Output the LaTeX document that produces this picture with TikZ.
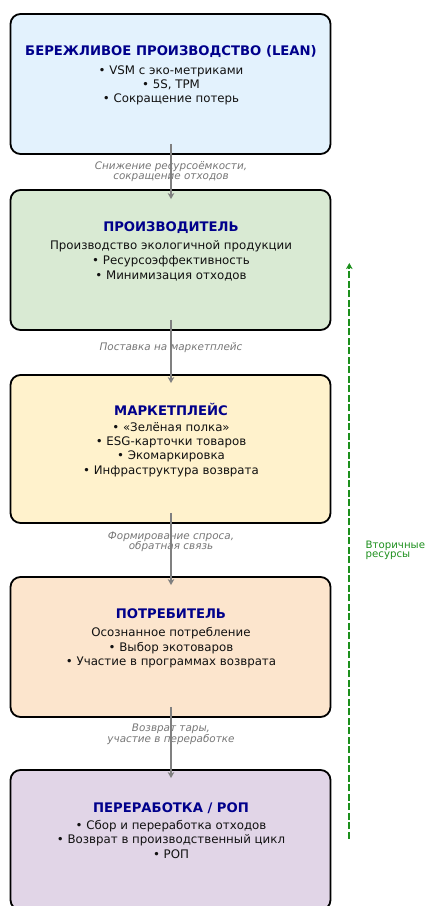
\documentclass[tikz,border=0pt]{standalone}
\usepackage{fontspec}
\setmainfont{DejaVu Sans}
\usetikzlibrary{arrows.meta}
\definecolor{c1}{HTML}{E3F2FD}
\definecolor{c2}{HTML}{D9EAD3}
\definecolor{c3}{HTML}{FFF2CC}
\definecolor{c4}{HTML}{FCE5CD}
\definecolor{c5}{HTML}{E1D5E7}
\definecolor{ttl}{HTML}{00008B}
\definecolor{grn}{HTML}{1C8F1C}
\definecolor{gry}{HTML}{808080}
\definecolor{lbl}{HTML}{767676}
\definecolor{bodyc}{HTML}{111111}
\begin{document}
\begin{tikzpicture}[x=1pt,y=-1pt,
  box/.style={draw=black, line width=1.8pt, rounded corners=10pt, minimum width=320pt, inner sep=0pt},
  ttlnode/.style={font=\fontsize{13.2}{16}\selectfont\bfseries, text=ttl, inner sep=0pt, anchor=base},
  body/.style={font=\fontsize{11.8}{14}\selectfont, text=bodyc, inner sep=0pt, anchor=base},
  flowlbl/.style={font=\fontsize{10.4}{11}\selectfont\itshape, text=lbl, inner sep=0pt, anchor=base},
  sidelbl/.style={font=\fontsize{10.2}{11}\selectfont, text=grn, inner sep=0pt, anchor=base west},
  flow/.style={draw=gry, line width=1.5pt, -{Stealth[length=6pt,width=6.5pt,inset=1.5pt]}},
  back/.style={draw=grn, line width=1.9pt, dash pattern=on 7pt off 2.5pt, -{Stealth[length=6pt,width=6.5pt,inset=1.5pt]}},
]
\useasboundingbox (0,0) rectangle (424,906);

% boxes
\node[box, fill=c1, minimum height=140pt] (b1) at (170.5,84) {};
\node[box, fill=c2, minimum height=140pt] (b2) at (170.5,260) {};
\node[box, fill=c3, minimum height=148pt] (b3) at (170.5,449) {};
\node[box, fill=c4, minimum height=140pt] (b4) at (170.5,647) {};
\node[box, fill=c5, minimum height=140pt] (b5) at (170.5,840) {};

% box 1
\node[ttlnode] (t1) at (171,55) {БЕРЕЖЛИВОЕ ПРОИЗВОДСТВО (LEAN)};
\node[body] (t1a) at (171,74) {• VSM с эко-метриками};
\node[body] (t1b) at (171,88) {• 5S, TPM};
\node[body] (t1c) at (171,102.3) {• Сокращение потерь};

% box 2
\node[ttlnode] (t2) at (171,231) {ПРОИЗВОДИТЕЛЬ};
\node[body] (t2a) at (171,249.5) {Производство экологичной продукции};
\node[body] (t2b) at (171,264) {• Ресурсоэффективность};
\node[body] (t2c) at (171,279) {• Минимизация отходов};

% box 3
\node[ttlnode] (t3) at (171,415.3) {МАРКЕТПЛЕЙС};
\node[body] (t3a) at (171,431) {• «Зелёная полка»};
\node[body] (t3b) at (171,445.7) {• ESG-карточки товаров};
\node[body] (t3c) at (171,459.7) {• Экомаркировка};
\node[body] (t3d) at (171,474) {• Инфраструктура возврата};

% box 4
\node[ttlnode] (t4) at (171,618.3) {ПОТРЕБИТЕЛЬ};
\node[body] (t4a) at (171,636.7) {Осознанное потребление};
\node[body] (t4b) at (171,651) {• Выбор экотоваров};
\node[body] (t4c) at (171,665.3) {• Участие в программах возврата};

% box 5
\node[ttlnode] (t5) at (171,812.3) {ПЕРЕРАБОТКА / РОП};
\node[body] (t5a) at (171,829.3) {• Сбор и переработка отходов};
\node[body] (t5b) at (171,843.7) {• Возврат в производственный цикл};
\node[body] (t5c) at (171,858) {• РОП};

% flow labels
\node[flowlbl] (l1a) at (171,169.5) {Снижение ресурсоёмкости,};
\node[flowlbl] (l1b) at (171,179.3) {сокращение отходов};
\node[flowlbl] (l2a) at (171,350.7) {Поставка на маркетплейс};
\node[flowlbl] (l3a) at (171,539) {Формирование спроса,};
\node[flowlbl] (l3b) at (171,549.3) {обратная связь};
\node[flowlbl] (l4a) at (171,731.7) {Возврат тары,};
\node[flowlbl] (l4b) at (171,742.3) {участие в переработке};

% flow arrows
\draw[flow] ([xshift=0.5pt,yshift=11pt]b1.south) -- ([xshift=0.5pt,yshift=-10pt]b2.north);
\draw[flow] ([xshift=0.5pt,yshift=11pt]b2.south) -- ([xshift=0.5pt,yshift=-9pt]b3.north);
\draw[flow] ([xshift=0.5pt,yshift=11pt]b3.south) -- ([xshift=0.5pt,yshift=-9pt]b4.north);
\draw[flow] ([xshift=0.5pt,yshift=11pt]b4.south) -- ([xshift=0.5pt,yshift=-9pt]b5.north);

% return arrow
\coordinate (rs) at (349.3,838.7);
\coordinate (re) at (349.3,263);
\draw[back] (rs) -- (re);
\node[sidelbl] (s1) at (365.5,548.3) {Вторичные};
\node[sidelbl] (s2) at (365.5,557.8) {ресурсы};
\end{tikzpicture}
\end{document}
